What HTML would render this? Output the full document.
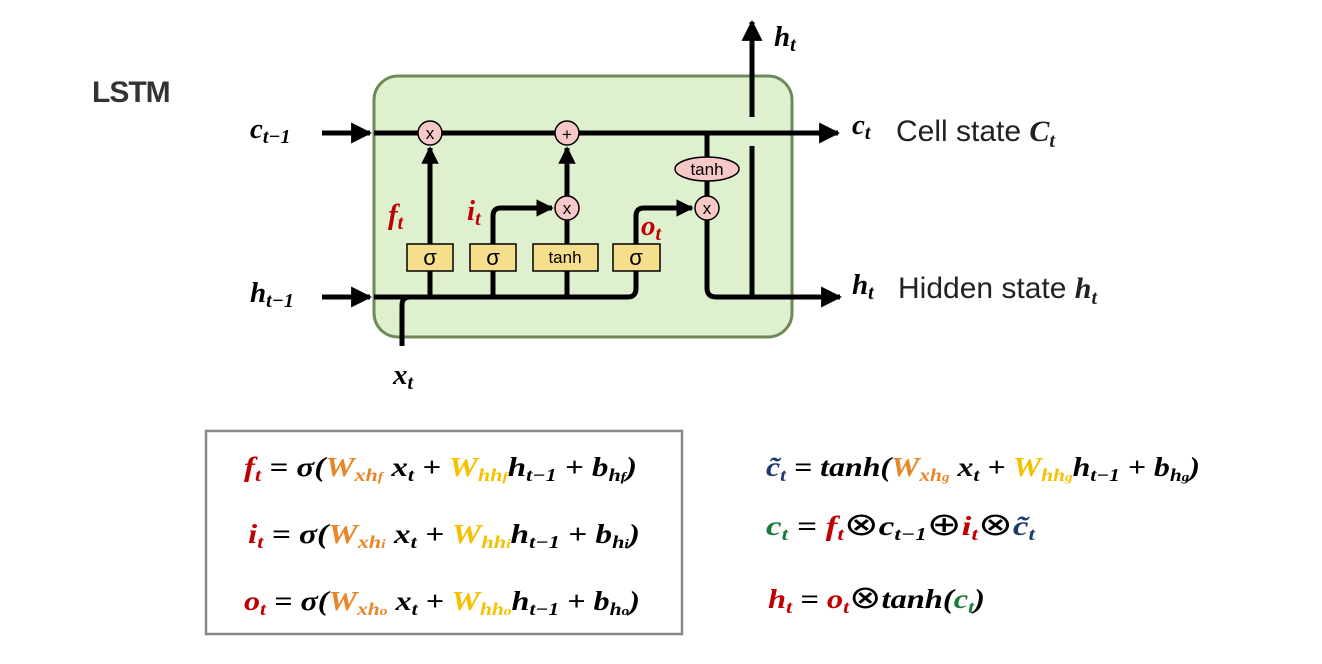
<!DOCTYPE html>
<html><head><meta charset="utf-8"><style>
body{margin:0;background:#fff;width:1322px;height:664px;overflow:hidden;font-family:"Liberation Sans",sans-serif}
svg{position:absolute;left:0;top:0}
.m{font-family:"Liberation Serif",serif;font-style:italic;font-weight:bold}
</style></head><body>
<svg width="1322" height="664" viewBox="0 0 1322 664">
<defs><marker id="a" viewBox="0 0 10 10" refX="9" refY="5" markerWidth="4.2" markerHeight="4.2" orient="auto" markerUnits="strokeWidth"><path d="M0,0L10,5L0,10z" fill="#000"/></marker>
<marker id="b" viewBox="0 0 10 10" refX="9" refY="5" markerWidth="3.5" markerHeight="3.5" orient="auto" markerUnits="strokeWidth"><path d="M0,0L10,5L0,10z" fill="#000"/></marker></defs>
<text x="92" y="102" font-size="30" font-weight="bold" fill="#333" letter-spacing="-1">LSTM</text>
<rect x="374" y="76" width="418" height="261" rx="24" fill="#dff0cf" stroke="#6e8a5a" stroke-width="3"/>
<g stroke="#000" stroke-width="5" fill="none">
<line x1="322" y1="133" x2="370" y2="133" marker-end="url(#a)"/>
<line x1="322" y1="297" x2="370" y2="297" marker-end="url(#a)"/>
<line x1="374" y1="133" x2="838" y2="133" marker-end="url(#a)"/>
<path d="M374,297 H628 Q636,297 636,288 V244"/>
<path d="M707,220 V288 Q707,297 716,297 H840" marker-end="url(#a)"/>
<path d="M402,346 V305 Q402,297 410,297"/>
<line x1="430" y1="297" x2="430" y2="148" marker-end="url(#b)"/>
<path d="M493,297 V216 Q493,208 501,208 H552" marker-end="url(#b)"/>
<path d="M636,244 V216 Q636,208 644,208 H692" marker-end="url(#b)"/>
<line x1="567" y1="297" x2="567" y2="220"/>
<line x1="567" y1="196" x2="567" y2="148" marker-end="url(#b)"/>
<line x1="707" y1="133" x2="707" y2="196"/>
<path d="M752,297 V146"/>
<line x1="752" y1="117" x2="752" y2="22" marker-end="url(#a)"/>
</g>
<g stroke="#000" stroke-width="1.5" fill="#f7c8c8">
<circle cx="430" cy="133" r="12"/><circle cx="567" cy="133" r="12"/>
<circle cx="567" cy="208" r="12"/><circle cx="707" cy="208" r="12"/>
<ellipse cx="707" cy="169" rx="32" ry="12"/>
</g>
<g stroke="#000" stroke-width="1.5" fill="#f5df8c">
<rect x="407" y="244" width="46" height="27"/><rect x="470" y="244" width="46" height="27"/>
<rect x="533" y="244" width="65" height="27"/><rect x="613" y="244" width="47" height="27"/>
</g>
<g font-size="17" text-anchor="middle" fill="#000">
<text x="430" y="139">x</text><text x="567" y="140">+</text><text x="567" y="214">x</text><text x="707" y="214">x</text>
<text x="707" y="175">tanh</text><text x="565" y="263">tanh</text>
<text x="430" y="265" font-size="22">σ</text><text x="493" y="265" font-size="22">σ</text><text x="636" y="265" font-size="22">σ</text>
</g>
<g class="m" font-size="29" fill="#000">
<text x="250" y="138">c<tspan font-size="20" dy="5">t−1</tspan></text>
<text x="250" y="302">h<tspan font-size="20" dy="5">t−1</tspan></text>
<text x="393" y="384">x<tspan font-size="20" dy="5">t</tspan></text>
<text x="774" y="46">h<tspan font-size="20" dy="5">t</tspan></text>
<text x="852" y="134">c<tspan font-size="20" dy="5">t</tspan></text>
<text x="852" y="294">h<tspan font-size="20" dy="5">t</tspan></text>
<g fill="#c00000"><text x="388" y="224">f<tspan font-size="20" dy="5">t</tspan></text>
<text x="467" y="220">i<tspan font-size="20" dy="5">t</tspan></text>
<text x="641" y="235">o<tspan font-size="20" dy="5">t</tspan></text></g>
</g>
<text x="896" y="141" font-size="30" fill="#222">Cell state <tspan class="m">C<tspan font-size="20" dy="6">t</tspan></tspan></text>
<text x="898" y="298" font-size="30" fill="#222">Hidden state <tspan class="m">h<tspan font-size="20" dy="6">t</tspan></tspan></text>
<rect x="206" y="431" width="476" height="203" fill="none" stroke="#888" stroke-width="2.5"/>
<g class="m" font-size="27" fill="#000">
<text x="244" y="476" textLength="393" lengthAdjust="spacingAndGlyphs"><tspan fill="#c00000">f<tspan font-size="18" dy="5">t</tspan></tspan><tspan dy="-5"> = σ(</tspan><tspan fill="#e8862a">W<tspan font-size="18" dy="5">xh<tspan font-size="13">f</tspan></tspan></tspan><tspan dy="-5"> x<tspan font-size="18" dy="5">t</tspan></tspan><tspan dy="-5"> + </tspan><tspan fill="#f5c000">W<tspan font-size="18" dy="5">hh<tspan font-size="13">f</tspan></tspan></tspan><tspan dy="-5">h<tspan font-size="18" dy="5">t−1</tspan></tspan><tspan dy="-5"> + b<tspan font-size="18" dy="5">h<tspan font-size="13">f</tspan></tspan></tspan><tspan dy="-5">)</tspan></text>
<text x="248" y="543" textLength="392" lengthAdjust="spacingAndGlyphs"><tspan fill="#c00000">i<tspan font-size="18" dy="5">t</tspan></tspan><tspan dy="-5"> = σ(</tspan><tspan fill="#e8862a">W<tspan font-size="18" dy="5">xh<tspan font-size="13">i</tspan></tspan></tspan><tspan dy="-5"> x<tspan font-size="18" dy="5">t</tspan></tspan><tspan dy="-5"> + </tspan><tspan fill="#f5c000">W<tspan font-size="18" dy="5">hh<tspan font-size="13">i</tspan></tspan></tspan><tspan dy="-5">h<tspan font-size="18" dy="5">t−1</tspan></tspan><tspan dy="-5"> + b<tspan font-size="18" dy="5">h<tspan font-size="13">i</tspan></tspan></tspan><tspan dy="-5">)</tspan></text>
<text x="244" y="610" textLength="396" lengthAdjust="spacingAndGlyphs"><tspan fill="#c00000">o<tspan font-size="18" dy="5">t</tspan></tspan><tspan dy="-5"> = σ(</tspan><tspan fill="#e8862a">W<tspan font-size="18" dy="5">xh<tspan font-size="13">o</tspan></tspan></tspan><tspan dy="-5"> x<tspan font-size="18" dy="5">t</tspan></tspan><tspan dy="-5"> + </tspan><tspan fill="#f5c000">W<tspan font-size="18" dy="5">hh<tspan font-size="13">o</tspan></tspan></tspan><tspan dy="-5">h<tspan font-size="18" dy="5">t−1</tspan></tspan><tspan dy="-5"> + b<tspan font-size="18" dy="5">h<tspan font-size="13">o</tspan></tspan></tspan><tspan dy="-5">)</tspan></text>
<text x="766" y="476" textLength="434" lengthAdjust="spacingAndGlyphs"><tspan fill="#1f3a70">c̃<tspan font-size="18" dy="5">t</tspan></tspan><tspan dy="-5"> = tanh(</tspan><tspan fill="#e8862a">W<tspan font-size="18" dy="5">xh<tspan font-size="13">g</tspan></tspan></tspan><tspan dy="-5"> x<tspan font-size="18" dy="5">t</tspan></tspan><tspan dy="-5"> + </tspan><tspan fill="#f5c000">W<tspan font-size="18" dy="5">hh<tspan font-size="13">g</tspan></tspan></tspan><tspan dy="-5">h<tspan font-size="18" dy="5">t−1</tspan></tspan><tspan dy="-5"> + b<tspan font-size="18" dy="5">h<tspan font-size="13">g</tspan></tspan></tspan><tspan dy="-5">)</tspan></text>
<text x="766" y="535" textLength="269" lengthAdjust="spacingAndGlyphs"><tspan fill="#1a7a3a">c<tspan font-size="18" dy="5">t</tspan></tspan><tspan dy="-5"> = </tspan><tspan fill="#c00000">f<tspan font-size="18" dy="5">t</tspan></tspan><tspan dy="-5" font-weight="normal" font-style="normal" font-size="32">⊗</tspan><tspan>c<tspan font-size="18" dy="5">t−1</tspan></tspan><tspan dy="-5" font-weight="normal" font-style="normal" font-size="32">⊕</tspan><tspan fill="#c00000">i<tspan font-size="18" dy="5">t</tspan></tspan><tspan dy="-5" font-weight="normal" font-style="normal" font-size="32">⊗</tspan><tspan fill="#1f3a70">c̃<tspan font-size="18" dy="5">t</tspan></tspan></text>
<text x="768" y="608" textLength="217" lengthAdjust="spacingAndGlyphs"><tspan fill="#c00000">h<tspan font-size="18" dy="5">t</tspan></tspan><tspan dy="-5"> = </tspan><tspan fill="#c00000">o<tspan font-size="18" dy="5">t</tspan></tspan><tspan dy="-5" font-weight="normal" font-style="normal" font-size="32">⊗</tspan><tspan>tanh(</tspan><tspan fill="#1a7a3a">c<tspan font-size="18" dy="5">t</tspan></tspan><tspan dy="-5">)</tspan></text>
</g>
</svg>
</body></html>
